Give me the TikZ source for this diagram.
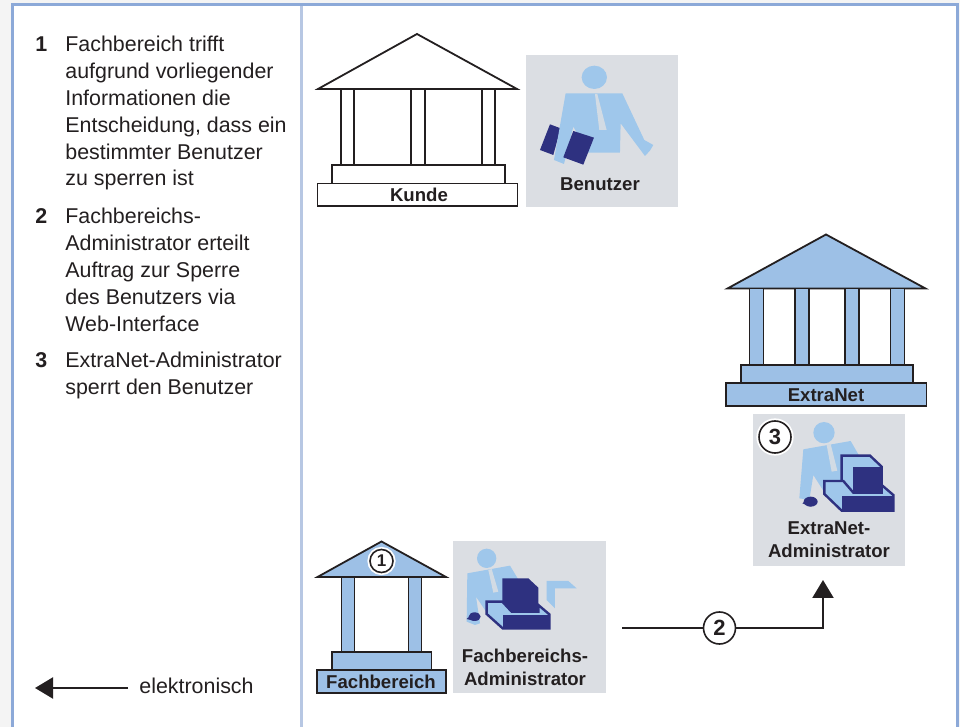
\documentclass[tikz,border=0pt]{standalone}
\usepackage{fontspec}
\setmainfont{Liberation Sans}
\usetikzlibrary{arrows.meta}
\definecolor{linie}{HTML}{231F20}
\definecolor{rahmen}{HTML}{8CA9D8}
\definecolor{trenner}{HTML}{B7C7E3}
\definecolor{aussen}{HTML}{F4F4F4}
\definecolor{grau}{HTML}{DBDEE3}
\definecolor{tempelblau}{HTML}{9DC0E6}
\definecolor{personblau}{HTML}{9FC7EB}
\definecolor{dunkel}{HTML}{2E3180}
\tikzset{
  tempel/.style={draw=linie, line width=0.9pt, line join=miter},
  liste/.style={inner sep=0pt, text=linie, align=left, font=\fontsize{10.7}{13.4}\selectfont},
  ziffer/.style={inner sep=0pt, text=linie, font=\fontsize{10.7}{13.4}\selectfont\bfseries},
  titel/.style={inner sep=0pt, text=linie, align=center, font=\fontsize{9.3}{11.6}\selectfont\bfseries},
  nummer/.style={circle, draw=linie, line width=0.8pt, fill=white, inner sep=0pt, minimum size=16pt,
    text=linie, font=\fontsize{11}{13}\selectfont\bfseries, preaction={draw=white, line width=2.6pt}},
  pfeil/.style={draw=linie, line width=1.1pt, -{Triangle[length=9pt,width=10.5pt]}}
}
\begin{document}
\begin{tikzpicture}[x=0.5pt,y=-0.5pt]
    \useasboundingbox (0,0) rectangle (960,727);
    % Rahmen
    \fill[aussen] (0,0) rectangle (960,727);
    \fill[white] (12,5) rectangle (957,727);
    \draw[trenner, line width=1.5pt] (301,5) -- (301,727);
    \draw[rahmen, line width=1.5pt] (12,727) -- (12,5) -- (957,5) -- (957,727);

    % Liste
    \node[ziffer, anchor=base west] (n1) at (35,52) {1};
    \node[liste, anchor=north west] (t1) at (65,36) {Fachbereich trifft\\aufgrund vorliegender\\Informationen die\\Entscheidung, dass ein\\bestimmter Benutzer\\zu sperren ist};
    \node[ziffer, anchor=base west] (n2) at (35,224) {2};
    \node[liste, anchor=north west] (t2) at (65,208) {Fachbereichs-\\Administrator erteilt\\Auftrag zur Sperre\\des Benutzers via\\Web-Interface};
    \node[ziffer, anchor=base west] (n3) at (35,368) {3};
    \node[liste, anchor=north west] (t3) at (65,352) {ExtraNet-Administrator\\sperrt den Benutzer};

    % Legende
    \coordinate (legstart) at (128,688);
    \coordinate (legziel) at (35,688);
    \draw[pfeil] (legstart) -- (legziel);
    \node[liste, anchor=base west] (legtext) at (139,693) {elektronisch};

    % Kunde
    \draw[tempel, fill=white] (318,89) -- (417,34) -- (517,89) -- cycle;
    \draw[tempel, fill=white] (341,89) rectangle (354,165);
    \draw[tempel, fill=white] (411,89) rectangle (425,165);
    \draw[tempel, fill=white] (482,89) rectangle (495,165);
    \draw[tempel, fill=white] (332,165) rectangle (505,183.5);
    \draw[tempel, fill=white] (317.5,183.5) rectangle (517.5,206);
    \node[titel] (kunde) at (419,195) {Kunde};

    % Benutzer
    \fill[grau] (526,55) rectangle (678,207);
    \begin{scope}[shift={(310,20)},scale=0.3333]
        \fill[dunkel] (720,313) -- (752,325) -- (730,405) -- (690,390) -- cycle;
        \fill[personblau] (853,172) ellipse (38 and 35);
        \fill[personblau] (767,220) -- (937,220) -- (1003,360) -- (1030,375) -- (1020,392) -- (1005,408) -- (932,310) -- (930,398) -- (835,398) -- (790,320) -- (762,432) -- (732,420) -- cycle;
        \fill[grau!85!personblau] (855,222) -- (862,222) -- (890,330) -- (868,330) -- cycle;
        \fill[dunkel] (790,333) -- (852,353) -- (820,434) -- (760,412) -- cycle;
    \end{scope}
    \node[titel] (benutzer) at (600,184) {Benutzer};

    % ExtraNet
    \draw[tempel, fill=tempelblau] (727.5,288.5) -- (826,234.5) -- (925.5,288.5) -- cycle;
    \foreach \s in {749.5,795,845,890.5}
        \draw[tempel, fill=tempelblau] (\s,288.5) rectangle (\s+14,365);
    \draw[tempel, fill=tempelblau] (741,365) rectangle (913,383);
    \draw[tempel, fill=tempelblau] (726,383) rectangle (926.5,406);
    \node[titel] (extranet) at (826,395.5) {ExtraNet};

    % ExtraNet-Administrator
    \fill[grau] (753,414.5) rectangle (905,566);
    \begin{scope}[shift={(790,420)},scale=0.3333]
        \fill[personblau] (102,38) circle (32);
        \fill[personblau] (40,88) -- (182,63) -- (215,120) -- (150,220) -- (105,220) -- (70,165) -- (58,240) -- (28,235) -- cycle;
        \fill[grau!85!personblau] (110,75) -- (122,72) -- (142,152) -- (125,155) -- cycle;
        \fill[dunkel] (62,245) ellipse (21 and 15);
        \fill[dunkel] (37,250) -- (50,240) -- (62,260) -- cycle;
        \filldraw[personblau, draw=dunkel, line width=1.2pt, line join=miter] (155,107) -- (240,107) -- (275,140) -- (275,218) -- (190,218) -- (155,185) -- cycle;
        \fill[dunkel] (190,140) -- (275,140) -- (275,218) -- (190,218) -- cycle;
        \filldraw[personblau, draw=dunkel, line width=1.2pt, line join=miter] (103,183) -- (160,183) -- (190,218) -- (275,218) -- (275,195) -- (310,225) -- (310,272) -- (155,272) -- (103,222) -- cycle;
        \fill[dunkel] (155,228) -- (310,228) -- (310,272) -- (155,272) -- cycle;
    \end{scope}
    \node[nummer] (nr3) at (775,437) {3};
    \node[titel] (eadmin) at (829,540) {ExtraNet-\\Administrator};

    % Fachbereich
    \draw[tempel, fill=tempelblau] (317.5,577) -- (381.5,541.5) -- (446,577) -- cycle;
    \draw[tempel, fill=tempelblau] (341.5,577) rectangle (354.5,652);
    \draw[tempel, fill=tempelblau] (408.5,577) rectangle (421.5,652);
    \draw[tempel, fill=tempelblau] (332,652) rectangle (431.5,670);
    \draw[tempel, fill=tempelblau] (317,670) rectangle (446,693);
    \node[titel] (fachbereich) at (381,681.5) {Fachbereich};
    \node[nummer, minimum size=11.5pt, font=\fontsize{8.5}{10}\selectfont\bfseries, preaction={draw=white, line width=2pt}] (nr1) at (381.5,561) {1};

    % Fachbereichs-Administrator
    \fill[grau] (453,541) rectangle (605.5,693);
    \begin{scope}[shift={(460,545)},scale=0.3333]
        \fill[personblau] (80,40) circle (29);
        \fill[personblau] (22,85) -- (150,62) -- (185,120) -- (130,200) -- (85,210) -- (48,155) -- (60,235) -- (45,240) -- (20,230) -- cycle;
        \fill[personblau] (260,108) -- (325,108) -- (350,130) -- (285,130) -- (285,190) -- (260,165) -- cycle;
        \fill[grau!85!personblau] (85,75) -- (95,72) -- (115,140) -- (100,143) -- cycle;
        \fill[dunkel] (44,215) ellipse (18 and 13);
        \fill[dunkel] (20,222) -- (35,208) -- (44,228) -- cycle;
        \filldraw[personblau, draw=dunkel, line width=1.2pt, line join=miter] (80,170) -- (127,170) -- (155,200) -- (235,200) -- (235,180) -- (268,208) -- (268,250) -- (128,250) -- (80,207) -- cycle;
        \fill[dunkel] (127,100) -- (205,100) -- (235,128) -- (235,200) -- (155,200) -- (127,172) -- cycle;
        \fill[dunkel] (128,210) -- (268,210) -- (268,250) -- (128,250) -- cycle;
    \end{scope}
    \node[titel] (fadmin) at (525,667) {Fachbereichs-\\Administrator};

    % Auftrag
    \coordinate (start) at (622,628);
    \coordinate (ziel) at (823,580);
    \node[nummer, preaction={}] (nr2) at (719.5,628) {2};
    \draw[draw=linie, line width=1.1pt] (start) -- (nr2);
    \draw[pfeil] (nr2) -| (ziel);
\end{tikzpicture}
\end{document}
